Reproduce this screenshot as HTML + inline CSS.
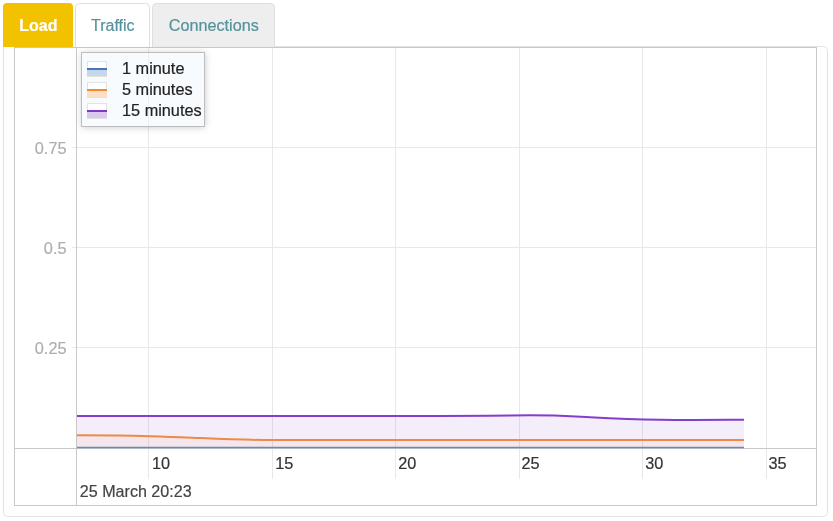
<!DOCTYPE html>
<html><head><meta charset="utf-8">
<style>
html,body{margin:0;padding:0;background:#fff;width:833px;height:521px;overflow:hidden}
svg{display:block;font-family:"Liberation Sans",sans-serif}
</style></head><body>
<svg width="833" height="521" viewBox="0 0 833 521">
<defs>
<filter id="sh" x="-30%" y="-30%" width="160%" height="160%"><feGaussianBlur stdDeviation="3.5"/></filter>
<filter id="gaa" x="0" y="0" width="833" height="521" filterUnits="userSpaceOnUse"><feOffset dx="0" dy="0"/></filter>
</defs>
<rect width="833" height="521" fill="#fff"/>
<g filter="url(#gaa)">
<path d="M3.5,47 V512.5 Q3.5,516.5 7.5,516.5 H823.5 Q827.5,516.5 827.5,512.5 V50.5 Q827.5,46.5 823.5,46.5 H275" fill="none" stroke="#e2e2e2"/>
<path d="M3,47 V7 Q3,3 7,3 H69 Q73,3 73,7 V47 Z" fill="#f2c200"/>
<path d="M75.5,47 V7.5 Q75.5,3.5 79.5,3.5 H145.5 Q149.5,3.5 149.5,7.5 V47" fill="#fff" stroke="#dedede"/>
<path d="M152.5,47 V7.5 Q152.5,3.5 156.5,3.5 H270.5 Q274.5,3.5 274.5,7.5 V47" fill="#eeeeee" stroke="#dedede"/>
<text x="38.4" y="31.3" font-size="16" fill="#fff" stroke="#fff" stroke-width="0.2" text-anchor="middle" font-weight="bold">Load</text>
<text x="112.8" y="31.3" font-size="16" fill="#55929a" stroke="#55929a" stroke-width="0.2" text-anchor="middle">Traffic</text>
<text x="213.8" y="31.3" font-size="16.2" fill="#55929a" stroke="#55929a" stroke-width="0.2" text-anchor="middle">Connections</text>

<g shape-rendering="crispEdges">
<rect x="14.5" y="47.5" width="802" height="458" fill="none" stroke="#c8c8c8"/>
<g stroke="#e8e8e8">
<line x1="72" y1="147.5" x2="816" y2="147.5"/>
<line x1="72" y1="247.5" x2="816" y2="247.5"/>
<line x1="72" y1="347.5" x2="816" y2="347.5"/>
<line x1="148.5" y1="48" x2="148.5" y2="479"/>
<line x1="272.5" y1="48" x2="272.5" y2="479"/>
<line x1="395.5" y1="48" x2="395.5" y2="479"/>
<line x1="519.5" y1="48" x2="519.5" y2="479"/>
<line x1="642.5" y1="48" x2="642.5" y2="479"/>
<line x1="766.5" y1="48" x2="766.5" y2="479"/>
</g>
<line x1="76.5" y1="48" x2="76.5" y2="505" stroke="#c8c8c8"/>
<line x1="15" y1="448.5" x2="816" y2="448.5" stroke="#c8c8c8"/>
</g>
<path d="M77,416 L440,416 C470,416 500,415.4 530,415.3 C560,415.3 575,416.5 590,417.2 C610,418.2 630,419.2 660,419.8 C690,420.2 720,419.9 744,419.8 L744,447.5 L77,447.5 Z" fill="#843ecb" fill-opacity="0.09"/>
<path d="M77,435.3 L118,435.4 C140,435.6 165,436.5 192,437.7 C218,438.9 236,439.9 262,439.9 L744,440 L744,447.5 L77,447.5 Z" fill="#ef8a46" fill-opacity="0.075"/>
<path d="M77,416 L440,416 C470,416 500,415.4 530,415.3 C560,415.3 575,416.5 590,417.2 C610,418.2 630,419.2 660,419.8 C690,420.2 720,419.9 744,419.8" fill="none" stroke="#843ecb" stroke-width="2"/>
<path d="M77,435.3 L118,435.4 C140,435.6 165,436.5 192,437.7 C218,438.9 236,439.9 262,439.9 L744,440" fill="none" stroke="#ef8a46" stroke-width="2"/>
<line x1="77" y1="447.4" x2="744" y2="447.4" stroke="#6c86c0" stroke-width="1.5"/>
<text x="66.5" y="154" font-size="16.3" fill="#aeaeae" stroke="#aeaeae" stroke-width="0.2" text-anchor="end">0.75</text>
<text x="66.5" y="254" font-size="16.3" fill="#aeaeae" stroke="#aeaeae" stroke-width="0.2" text-anchor="end">0.5</text>
<text x="66.5" y="354" font-size="16.3" fill="#aeaeae" stroke="#aeaeae" stroke-width="0.2" text-anchor="end">0.25</text>

<text x="152" y="469" font-size="16.3" fill="#333" stroke="#333" stroke-width="0.2">10</text>
<text x="275.3" y="469" font-size="16.3" fill="#333" stroke="#333" stroke-width="0.2">15</text>
<text x="398.3" y="469" font-size="16.3" fill="#333" stroke="#333" stroke-width="0.2">20</text>
<text x="521.5" y="469" font-size="16.3" fill="#333" stroke="#333" stroke-width="0.2">25</text>
<text x="645.2" y="469" font-size="16.3" fill="#333" stroke="#333" stroke-width="0.2">30</text>
<text x="768.4" y="469" font-size="16.3" fill="#333" stroke="#333" stroke-width="0.2">35</text>

<text x="79.8" y="497.3" font-size="16.1" fill="#444" stroke="#444" stroke-width="0.2">25 March 20:23</text>

<rect x="82" y="53" width="123" height="74" fill="#000" fill-opacity="0.22" filter="url(#sh)"/>
<rect x="81.5" y="52.5" width="123" height="74" fill="#f8fbfe" stroke="#bdbdbd"/>
<line x1="148.5" y1="53" x2="148.5" y2="126" stroke="#eceff2" shape-rendering="crispEdges"/>
<g shape-rendering="crispEdges">
<rect x="87.5" y="61.5" width="19" height="15" fill="#fff" stroke="#e2e2e2"/>
<rect x="87" y="70" width="20" height="6" fill="#c4d6ea"/>
<rect x="87" y="68" width="20" height="2" fill="#4a74b8"/>
<rect x="87.5" y="82.5" width="19" height="15" fill="#fff" stroke="#e2e2e2"/>
<rect x="87" y="91" width="20" height="6" fill="#fcdfc8"/>
<rect x="87" y="89" width="20" height="2" fill="#f58a2c"/>
<rect x="87.5" y="103.5" width="19" height="15" fill="#fff" stroke="#e2e2e2"/>
<rect x="87" y="112" width="20" height="6" fill="#dac8ef"/>
<rect x="87" y="110" width="20" height="2" fill="#8038c8"/>
</g>
<text x="122" y="74" font-size="16.3" fill="#222" stroke="#222" stroke-width="0.2">1 minute</text>
<text x="122" y="95" font-size="16.3" fill="#222" stroke="#222" stroke-width="0.2">5 minutes</text>
<text x="122" y="116" font-size="16.3" fill="#222" stroke="#222" stroke-width="0.2">15 minutes</text>

</g>
</svg>
</body></html>
